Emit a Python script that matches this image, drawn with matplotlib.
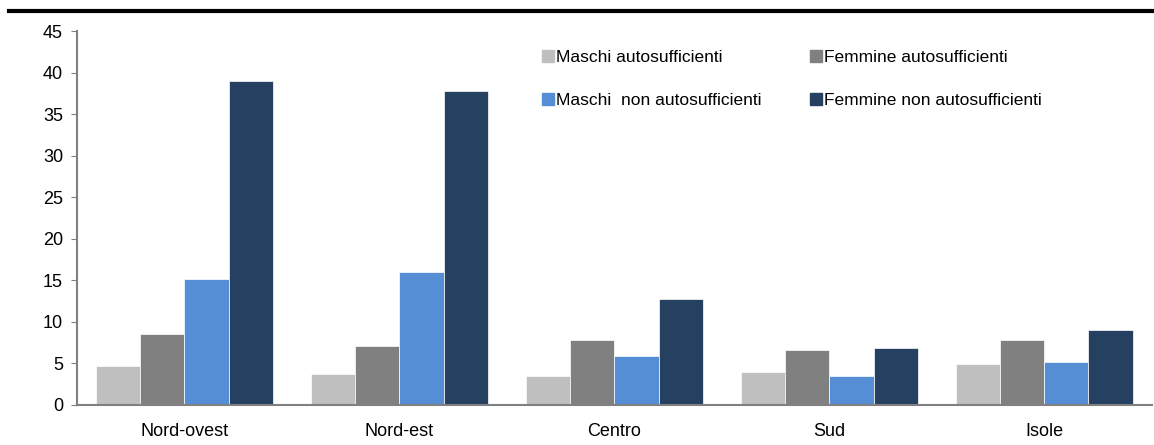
import numpy as np
import matplotlib.pyplot as plt
from matplotlib import font_manager
from matplotlib.lines import Line2D

regioni = ['Nord-ovest', 'Nord-est', 'Centro', 'Sud', 'Isole']
serie = ['Maschi autosufficienti', 'Femmine autosufficienti',
         'Maschi  non autosufficienti', 'Femmine non autosufficienti']
maschi_auto = [4.7, 3.7, 3.5, 4.0, 4.9]
femmine_auto = [8.5, 7.1, 7.8, 6.6, 7.8]
maschi_non_auto = [15.2, 16.0, 5.9, 3.5, 5.2]
femmine_non_auto = [39.0, 37.8, 12.8, 6.8, 9.0]
colori = ['#bfbfbf', '#808080', '#558ed5', '#264061']

fams = [f.name for f in font_manager.fontManager.ttflist]
if 'Liberation Sans Narrow' in fams:
    plt.rcParams['font.family'] = ['Liberation Sans Narrow', 'DejaVu Sans']
else:
    plt.rcParams['font.family'] = ['Liberation Sans', 'DejaVu Sans']

fig = plt.figure(figsize=(11.54, 4.45), dpi=100)
ax = fig.add_axes([0.0667, 0.09, 0.9313, 0.84])

x = np.arange(len(regioni))
w = 0.206
valori = [maschi_auto, femmine_auto, maschi_non_auto, femmine_non_auto]
for i, (v, c) in enumerate(zip(valori, colori)):
    ax.bar(x + (i - 1.5) * w, v, w, color=c, edgecolor='white', linewidth=0.5, zorder=2)

ax.set_xlim(-0.5, 4.5)
ax.set_ylim(0, 45)
ax.set_yticks(range(0, 46, 5))
ax.set_xticks(x)
ax.set_xticklabels(regioni, fontsize=13)
ax.tick_params(axis='x', length=0, pad=13)
ax.tick_params(axis='y', labelsize=13, length=4, color='#808080', direction='out', pad=6)
for s in ['top', 'right']:
    ax.spines[s].set_visible(False)
for s in ['left', 'bottom']:
    ax.spines[s].set_color('#808080')
    ax.spines[s].set_linewidth(1.5)

handles = [Line2D([0], [0], marker='s', linestyle='none', markersize=8,
                  markerfacecolor=c, markeredgecolor=c) for c in colori]
# legenda riempita per colonne: riordino per avere le righe come nell'originale
ordine = [0, 2, 1, 3]
ax.legend([handles[i] for i in ordine], [serie[i] for i in ordine], ncol=2,
          frameon=False, fontsize=12.5,
          loc='upper left', bbox_to_anchor=(0.417, 0.991),
          handletextpad=0.1, handlelength=0.8, columnspacing=2.7,
          labelspacing=1.6)

# linea nera in alto
fig.add_artist(Line2D([0.008, 1.0], [0.976, 0.976], color='black', linewidth=3))

fig.savefig('out.png', dpi=100)
